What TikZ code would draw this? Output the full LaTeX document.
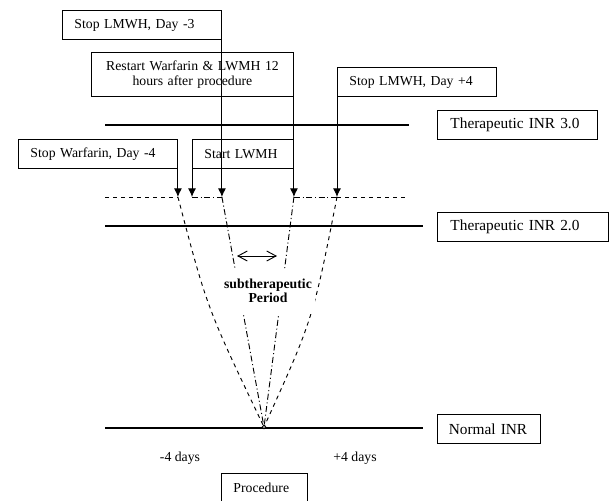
\documentclass[tikz,border=0pt]{standalone}
\usepackage{fontspec}
\setmainfont{Liberation Serif}
\usetikzlibrary{arrows.meta}
\tikzstyle{event} = [draw, rectangle, anchor=north west, inner xsep=9pt, minimum height=21.75pt, align=left, font=\fontsize{10.3}{11.5}\selectfont]
\tikzstyle{inr} = [event, inner xsep=9.75pt, font=\fontsize{11.5}{13}\selectfont]
\tikzstyle{line} = [draw, -{Latex[length=6.5pt,width=6pt]}]
\tikzstyle{level} = [draw, line width=1.8pt]
\tikzstyle{fall} = [draw, dashed]
\tikzstyle{rise} = [draw, dash pattern=on 4.5pt off 2pt on 0.8pt off 2pt]
\tikzstyle{days} = [font=\fontsize{10.3}{11.5}\selectfont]
\begin{document}
\begin{tikzpicture}[x=0.75pt, y=-0.75pt, line width=0.7pt]
    \useasboundingbox (0,0) rectangle (610,500);

    % Place nodes
    \node [event, text width=101.25pt] (stop-lmwh-3) at (62,10) {Stop LMWH, Day -3};
    \node [event, text width=133.5pt, align=center, minimum height=33pt] (restart) at (91,52) {Restart Warfarin \& LWMH 12\\hours after procedure};
    \node [event, text width=101.25pt] (stop-lmwh-4) at (337,67) {Stop LMWH, Day +4};
    \node [event, text width=101.25pt] (stop-warfarin) at (18,139) {Stop Warfarin, Day -4};
    \node [event, text width=57.75pt] (start-lwmh) at (192,139) {Start LWMH};
    \node [inr, text width=100.5pt] (inr-3) at (437,110) {Therapeutic INR 3.0};
    \node [inr, text width=108.75pt] (inr-2) at (437,212) {Therapeutic INR 2.0};
    \node [inr, inner xsep=8.5pt, text width=60pt] (inr-normal) at (437,414) {Normal INR};
    \node [event, text width=46.5pt, minimum height=21pt] (procedure) at (221,473) {Procedure};
    \node [days] (minus-four) at (180,458) {-4 days};
    \node [days] (plus-four) at (355,458) {+4 days};

    % Helper coordinates on the 2.5 line
    \coordinate (dl) at (105,197);
    \coordinate (dr) at (408,197);
    \coordinate (t1) at (stop-warfarin.south east |- dl);
    \coordinate (t2) at (start-lwmh.south west |- dl);
    \coordinate (t3) at (stop-lmwh-3.south east |- dl);
    \coordinate (t4) at (restart.south east |- dl);
    \coordinate (t5) at (stop-lmwh-4.south west |- dl);
    \coordinate (p0) at (264,427);

    % INR levels
    \path [level] (105,125) -- (409,125);
    \path [level] (105,226) -- (423,226);
    \path [level] (105,428) -- (423,428);

    % Draw edges
    \path [line] (stop-warfarin.south east) -- (t1);
    \path [line] (start-lwmh.south west) -- (t2);
    \path [line] (stop-lmwh-3.south east) -- (t3);
    \path [line] (restart.south east) -- (t4);
    \path [line] (stop-lmwh-4.south west) -- (t5);
    \path [fall] (dl) -- (t1);
    \path [rise] (t2) -- (t3);
    \path [rise] (t4) -- (t5);
    \path [fall] (t5) -- (dr);
    \path [fall] (t1) .. controls (207,308) .. (p0);
    \path [fall] (t5) .. controls (313,319) .. (p0);
    \path [rise] (t3) -- (p0);
    \path [rise] (t4) -- (p0);
    \draw [fill=white] (p0) circle (1.3pt);

    % Subtherapeutic window
    \node [font=\bfseries\fontsize{10.3}{10.5}\selectfont, align=center, fill=white, inner xsep=2pt, inner ysep=8pt] (subthera) at (268,291) {subtherapeutic\\Period};
    \coordinate (w1) at (237,256);
    \coordinate (w2) at (277,256);
    \draw [{Straight Barb[length=7pt,width=7.5pt]}-{Straight Barb[length=7pt,width=7.5pt]}] (w1) -- (w2);
\end{tikzpicture}
\end{document}
